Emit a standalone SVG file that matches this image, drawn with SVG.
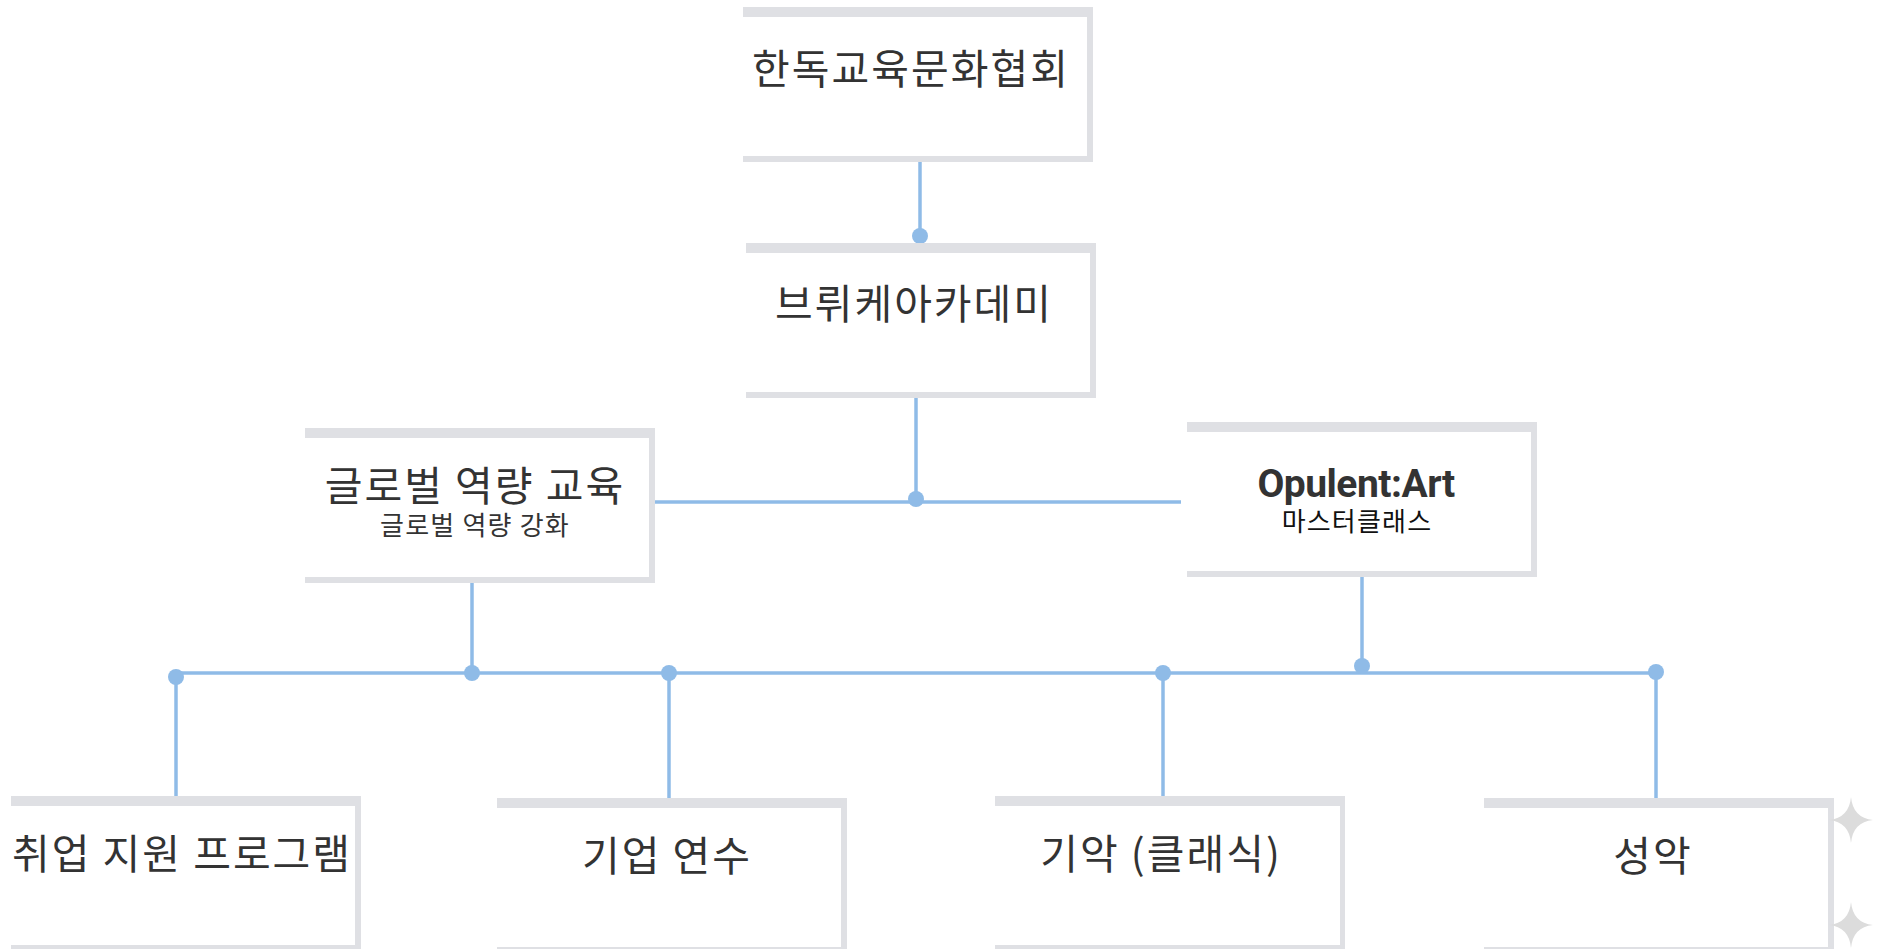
<svg xmlns="http://www.w3.org/2000/svg" width="1878" height="949" viewBox="0 0 1878 949">
<style>
.frame{fill:#dfe0e4}
.inner{fill:#ffffff}
.t{font-family:"Noto Sans CJK KR","Noto Sans",sans-serif;fill:#333333;text-anchor:middle}
.big{font-size:41px;letter-spacing:2px}
.sub{font-size:26px;letter-spacing:1.2px}
.en{font-family:Roboto,"Liberation Sans",sans-serif;font-weight:700;font-size:39px;fill:#333333;text-anchor:middle;letter-spacing:-0.5px}
.ln{stroke:#8fbbe7;stroke-width:3.5;fill:none}
.dot{fill:#8fbbe7}
.spark{fill:#dcdcdc}
</style>
<rect width="1878" height="949" fill="#ffffff"/>
<g id="connectors">
<line class="ln" x1="920" y1="162" x2="920" y2="236"/>
<circle class="dot" cx="920" cy="236" r="8"/>
<line class="ln" x1="916" y1="398" x2="916" y2="500"/>
<line class="ln" x1="655" y1="502" x2="1181" y2="502"/>
<circle class="dot" cx="916" cy="499" r="8"/>
<line class="ln" x1="472" y1="583" x2="472" y2="673"/>
<line class="ln" x1="1362" y1="577" x2="1362" y2="667"/>
<line class="ln" x1="176" y1="673" x2="1656" y2="673"/>
<line class="ln" x1="176" y1="673" x2="176" y2="796"/>
<line class="ln" x1="669" y1="673" x2="669" y2="798"/>
<line class="ln" x1="1163" y1="673" x2="1163" y2="796"/>
<line class="ln" x1="1656" y1="672" x2="1656" y2="798"/>
<circle class="dot" cx="472" cy="673" r="8"/>
<circle class="dot" cx="1362" cy="666" r="8"/>
<circle class="dot" cx="176" cy="677" r="8"/>
<circle class="dot" cx="669" cy="673" r="8"/>
<circle class="dot" cx="1163" cy="673" r="8"/>
<circle class="dot" cx="1656" cy="672" r="8"/>
</g>
<g id="node-handok">
<rect class="frame" x="743" y="7" width="350" height="155"/>
<rect class="inner" x="743" y="17" width="344" height="139"/>
<text class="t big" x="911" y="84">한독교육문화협회</text>
</g>
<g id="node-bruecke">
<rect class="frame" x="746" y="243" width="350" height="155"/>
<rect class="inner" x="746" y="253" width="344" height="139"/>
<text class="t big" x="914" y="319">브뤼케아카데미</text>
</g>
<g id="node-global">
<rect class="frame" x="305" y="428" width="350" height="155"/>
<rect class="inner" x="305" y="438" width="344" height="139"/>
<text class="t big" x="475" y="501">글로벌 역량 교육</text>
<text class="t sub" x="475" y="535">글로벌 역량 강화</text>
</g>
<g id="node-opulent">
<rect class="frame" x="1187" y="422" width="350" height="155"/>
<rect class="inner" x="1187" y="432" width="344" height="139"/>
<text class="en" x="1356" y="497">Opulent:Art</text>
<text class="t sub" x="1357" y="531" style="fill:#111111">마스터클래스</text>
</g>
<g id="node-job">
<rect class="frame" x="11" y="796" width="350" height="155"/>
<rect class="inner" x="11" y="806" width="344" height="139"/>
<text class="t big" x="182" y="869">취업 지원 프로그램</text>
</g>
<g id="node-training">
<rect class="frame" x="497" y="798" width="350" height="155"/>
<rect class="inner" x="497" y="808" width="344" height="139"/>
<text class="t big" x="667" y="871">기업 연수</text>
</g>
<g id="node-instrument">
<rect class="frame" x="995" y="796" width="350" height="155"/>
<rect class="inner" x="995" y="806" width="345" height="139"/>
<text class="t big" x="1161" y="869">기악 (클래식)</text>
</g>
<g id="node-vocal">
<rect class="frame" x="1484" y="798" width="350" height="155"/>
<rect class="inner" x="1484" y="808" width="344" height="139"/>
<text class="t big" x="1653" y="871">성악</text>
</g>
<g id="sparkles">
<path class="spark" d="M1851,797 Q1853,818 1873,820 Q1853,822 1851,843 Q1849,822 1829,820 Q1849,818 1851,797 Z"/>
<path class="spark" d="M1851,902 Q1853,923 1873,925 Q1853,927 1851,948 Q1849,927 1829,925 Q1849,923 1851,902 Z"/>
</g>
</svg>
